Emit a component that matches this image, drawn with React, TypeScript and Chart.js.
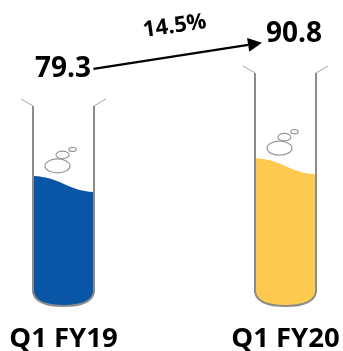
import React, { useEffect, useRef } from "react";
import { Chart, BarController, BarElement, CategoryScale, LinearScale } from "chart.js";

const quarters = ["Q1 FY19", "Q1 FY20"];
const revenue = [79.3, 90.8];
const rimLevels = [129.9, 151.3];
const liquidColors = ["#0A56A6", "#FEC94F"];
const growthLabel = "14.5%";

const FONT = '"Open Sans", sans-serif';

// A bar shaped like a test tube: wavy liquid surface, round base, glass walls, bubbles.
class TubeElement extends BarElement {
  static id = "tubeBar";

  draw(ctx: CanvasRenderingContext2D) {
    const { x, y, base, width } = (this as any).getProps(["x", "y", "base", "width"]);
    const left = x - width / 2;
    const right = x + width / 2;
    const index = (this as any).$context.dataIndex;
    const scale = (this as any).$context.chart.scales.y;
    const rimY = scale.getPixelForValue(rimLevels[index]);
    const shoulder = base - 14;

    const baseCurve = () => {
      ctx.lineTo(right, shoulder);
      ctx.bezierCurveTo(right - 2, base - 3, x + 16, base, x, base);
      ctx.bezierCurveTo(x - 16, base, left + 2, base - 3, left, shoulder);
    };

    ctx.save();
    ctx.beginPath();
    ctx.moveTo(left, y - 8);
    ctx.bezierCurveTo(left + 28, y - 7, x + 4, y + 7, right, y + 8);
    baseCurve();
    ctx.closePath();
    ctx.fillStyle = (this as any).options.backgroundColor;
    ctx.fill();

    ctx.strokeStyle = "#8C8C8C";
    ctx.lineWidth = 2;
    ctx.beginPath();
    ctx.moveTo(right, rimY);
    baseCurve();
    ctx.lineTo(left, rimY);
    ctx.stroke();

    ctx.strokeStyle = "#A6A6A6";
    ctx.lineWidth = 1;
    ctx.beginPath();
    ctx.moveTo(left, rimY);
    ctx.lineTo(left - 12, rimY - 7);
    ctx.moveTo(right, rimY);
    ctx.lineTo(right + 12, rimY - 7);
    ctx.stroke();

    ctx.strokeStyle = "#9A9A9A";
    ctx.lineWidth = 1.2;
    const bubbles = [
      [-6, -18, 12.5, 7],
      [-1, -29, 6.5, 3.7],
      [9, -34.5, 3.7, 2],
    ];
    for (const [dx, dy, rx, ry] of bubbles) {
      ctx.beginPath();
      ctx.ellipse(x + dx, y + dy, rx, ry, 0, 0, Math.PI * 2);
      ctx.stroke();
    }
    ctx.restore();
  }
}

class TubeController extends BarController {
  static id = "tube";
  static defaults = { ...BarController.defaults, dataElementType: "tubeBar" };
  static overrides = BarController.overrides;
}

// Value labels above each tube, joined by the growth arrow.
const growthArrow = {
  id: "growthArrow",
  afterDatasetsDraw(chart: any) {
    const { ctx } = chart;
    const [a, b] = chart.getDatasetMeta(0).data;
    const rimA = chart.scales.y.getPixelForValue(rimLevels[0]);
    const rimB = chart.scales.y.getPixelForValue(rimLevels[1]);
    const ax = a.x - 0.5;
    const ay = rimA - 37;
    const bx = b.x + 8.5;
    const by = rimB - 39;

    ctx.save();
    ctx.fillStyle = "#000";
    ctx.textAlign = "center";
    ctx.textBaseline = "middle";
    ctx.font = `bold 28px ${FONT}`;
    ctx.fillText(revenue[0].toFixed(1), ax, ay);
    ctx.fillText(revenue[1].toFixed(1), bx, by);

    const x0 = ax + 30.5;
    const y0 = ay;
    const x1 = bx - 32;
    const y1 = by + 8.7;
    const angle = Math.atan2(y1 - y0, x1 - x0);
    const head = 14;
    ctx.strokeStyle = "#000";
    ctx.lineWidth = 2.2;
    ctx.beginPath();
    ctx.moveTo(x0, y0);
    ctx.lineTo(x1 - head * Math.cos(angle), y1 - head * Math.sin(angle));
    ctx.stroke();
    ctx.translate(x1, y1);
    ctx.rotate(angle);
    ctx.beginPath();
    ctx.moveTo(0, 0);
    ctx.lineTo(-head, -7);
    ctx.lineTo(-head, 7);
    ctx.closePath();
    ctx.fill();
    ctx.rotate(-angle);
    ctx.translate(-x1, -y1);

    ctx.translate((x0 + x1) / 2 - 3, (y0 + y1) / 2 - 29.5);
    ctx.rotate((-8 * Math.PI) / 180);
    ctx.font = `bold 22px ${FONT}`;
    ctx.fillText(growthLabel, 0, 0);
    ctx.restore();
  },
};

Chart.register(TubeController, TubeElement, BarElement, CategoryScale, LinearScale);

export default function App() {
  const canvasRef = useRef<HTMLCanvasElement>(null);

  useEffect(() => {
    document.body.style.margin = "0";
    const chart = new Chart(canvasRef.current!, {
      type: "tube" as any,
      data: {
        labels: quarters,
        datasets: [
          {
            data: revenue,
            backgroundColor: liquidColors,
            barThickness: 61,
            clip: false,
          } as any,
        ],
      },
      plugins: [growthArrow],
      options: {
        responsive: false,
        animation: false,
        layout: { padding: { left: 63.5, right: 57.5, top: 0, bottom: 0 } },
        plugins: { legend: { display: false }, tooltip: { enabled: false } },
        scales: {
          x: {
            type: "category",
            offset: false,
            border: { display: false },
            grid: { display: false, drawTicks: false },
            ticks: {
              color: "#000",
              padding: 17,
              autoSkip: false,
              maxRotation: 0,
              font: { family: FONT, size: 27.5, weight: "bold" },
            },
            afterFit: (scale: any) => {
              // Tick labels may overhang the plot: no extra inset for them.
              scale.height = 45;
              scale.paddingLeft = 0;
              scale.paddingRight = 0;
            },
          },
          y: { type: "linear", display: false, min: 0, max: 198.7 },
        },
      } as any,
    });
    return () => chart.destroy();
  }, []);

  return <canvas ref={canvasRef} width={343} height={351} style={{ display: "block" }} />;
}
